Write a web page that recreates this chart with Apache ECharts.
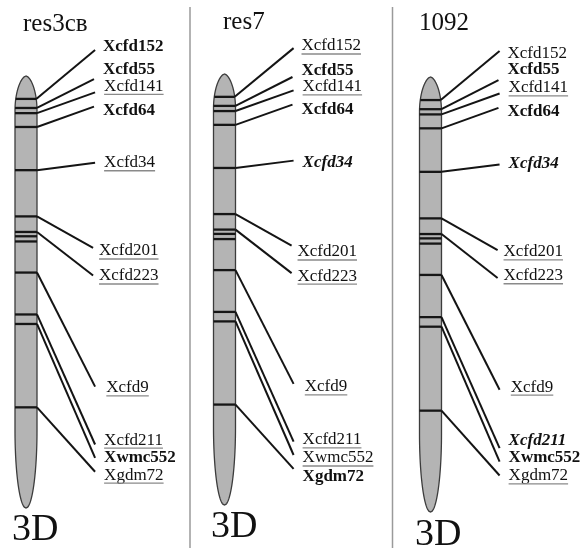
<!DOCTYPE html>
<html>
<head>
<meta charset="utf-8">
<script src="https://cdn.jsdelivr.net/npm/echarts@6/dist/echarts.min.js"></script>
<style>html,body{margin:0;padding:0;background:#fff;}#c{width:586px;height:548px;}</style>
</head>
<body>
<div id="c"></div>
<script>
// ---- data (map positions in % of chromosome length, top = 0) ----
const lineNames = ['res3cв', 'res7', '1092'];
const chromName = '3D';
const markers = ['Xcfd152','Xcfd55','Xcfd141','Xcfd64','Xcfd34','Xcfd201','Xcfd223','Xcfd9','Xcfd211','Xwmc552','Xgdm72'];
const markerPos = [5.3, 7.4, 8.6, 11.8, 21.8, 32.5, 36.1, 45.5, 55.2, 57.4, 76.7];
const extraBands = [37.1, 38.3];
const tipPos = [-6.0, 0.7, 3.8, 7.1, 20.1, 39.8, 46.2, 71.9, 85.3, 88.4, 91.6];
const tipX = [3.64, 3.59, 3.64, 3.59, 3.64, 3.55, 3.55, 3.64, 3.64, 3.64, 3.64];
const labelX = [4.0, 4.0, 4.05, 4.0, 4.05, 3.82, 3.82, 4.15, 4.05, 4.05, 4.05];
const labelPosRes3cb = [-6.9, -1.4, 2.4, 8.1, 20.1, 40.5, 46.3, 72.2, 84.3, 88.4, 92.4];
const labelPosRes7 = [-6.5, -0.9, 3.0, 8.3, 20.6, 41.3, 46.9, 72.6, 84.9, 89.1, 93.3];
const labelPos1092 = [-5.5, -1.6, 2.5, 8.0, 19.8, 40.2, 45.7, 71.3, 83.7, 87.6, 91.7];
const stylesRes3cb = ['b','b','u','b','u','u','u','u','u','b','u'];
const stylesRes7 = ['u','b','u','b','bi','u','u','u','u','u','b'];
const styles1092 = ['n','b','u','b','bi','u','u','u','bi','b','u'];

// ---- layout ----
const panels = [
  {left: 15, top: 76, bottom: 508, titleX: 23, titleY: 24, cdX: 12, cdY: 530, labels: labelPosRes3cb, styles: stylesRes3cb},
  {left: 213.5, top: 74, bottom: 505, titleX: 223, titleY: 22, cdX: 211, cdY: 527, labels: labelPosRes7, styles: stylesRes7},
  {left: 419.5, top: 77, bottom: 512, titleX: 419, titleY: 23, cdX: 415, cdY: 535, labels: labelPos1092, styles: styles1092}
];
const chromW = 22;
const FONT = '"Liberation Serif","Times New Roman",serif';
const FS = 17;
const measureCtx = document.createElement('canvas').getContext('2d');
function textWidth(t, f) { measureCtx.font = f; return measureCtx.measureText(t).width; }
function fontFor(s) {
  if (s === 'b') return 'bold ' + FS + 'px ' + FONT;
  if (s === 'bi') return 'italic bold ' + FS + 'px ' + FONT;
  return 'normal ' + FS + 'px ' + FONT;
}
// half width of chromosome (in x units, full width = 1) at map position u
const DOME = 8, TAIL0 = 82, TAIL = 18;
function halfW(u) {
  if (u < 0) return 0;
  if (u < DOME) { const t = 1 - u / DOME; return 0.5 * Math.pow(Math.sqrt(Math.max(0, 1 - t * t)), 1.2); }
  if (u > TAIL0) { const k = (u - TAIL0) / TAIL; return k >= 1 ? 0 : 0.5 * Math.sqrt(1 - k * k); }
  return 0.5;
}

const grids = [], xAxes = [], yAxes = [], series = [], graphics = [];
panels.forEach((p, i) => {
  grids.push({left: p.left, width: chromW, top: p.top, height: p.bottom - p.top});
  xAxes.push({type: 'value', gridIndex: i, min: 0, max: 1, show: false});
  yAxes.push({type: 'value', gridIndex: i, min: 0, max: 100, inverse: true, show: false});
  // chromosome body
  series.push({
    type: 'custom', xAxisIndex: i, yAxisIndex: i, clip: false, silent: true, z: 1,
    data: [[0, 100]],
    renderItem: (params, api) => {
      const pts = [];
      for (let u = 0; u <= 100; u += 0.2) pts.push(api.coord([0.5 - halfW(u), u]));
      for (let u = 100; u >= 0; u -= 0.2) pts.push(api.coord([0.5 + halfW(u), u]));
      return {type: 'polygon', shape: {points: pts}, style: {fill: '#b4b4b4', stroke: '#3c3c3c', lineWidth: 1.3}};
    }
  });
  // bands
  series.push({
    type: 'custom', xAxisIndex: i, yAxisIndex: i, clip: false, silent: true, z: 2,
    data: markerPos.concat(extraBands).map(v => [0.5, v]),
    renderItem: (params, api) => {
      const u = api.value(1), w = halfW(u);
      const a = api.coord([0.5 - w, u]), b = api.coord([0.5 + w, u]);
      return {type: 'line', shape: {x1: a[0], y1: a[1], x2: b[0], y2: b[1]}, style: {stroke: '#161616', lineWidth: 2.3}};
    }
  });
  // connectors
  series.push({
    type: 'custom', xAxisIndex: i, yAxisIndex: i, clip: false, silent: true, z: 3,
    data: markers.map((m, k) => [markerPos[k], tipX[k], tipPos[k]]),
    renderItem: (params, api) => {
      const u = api.value(0);
      const a = api.coord([0.5 + halfW(u), u]), b = api.coord([api.value(1), api.value(2)]);
      return {type: 'line', shape: {x1: a[0], y1: a[1], x2: b[0], y2: b[1]}, style: {stroke: '#141414', lineWidth: 2}};
    }
  });
  // labels
  series.push({
    type: 'custom', xAxisIndex: i, yAxisIndex: i, clip: false, silent: true, z: 4,
    data: markers.map((m, k) => [labelX[k], p.labels[k], k]),
    renderItem: (params, api) => {
      const k = api.value(2), s = p.styles[k], f = fontFor(s), name = markers[k];
      const c = api.coord([api.value(0), api.value(1)]);
      const children = [{
        type: 'text', x: c[0], y: c[1],
        style: {text: name, font: f, fill: '#111', textAlign: 'left', textVerticalAlign: 'middle', align: 'left', verticalAlign: 'middle'}
      }];
      if (s === 'u') {
        const w = textWidth(name, f);
        const uy = c[1] + FS * 0.34 + 2.2;
        children.push({type: 'line', shape: {x1: c[0], y1: uy, x2: c[0] + w, y2: uy}, style: {stroke: '#8a8a8a', lineWidth: 1.4}});
      }
      return {type: 'group', children};
    }
  });
  graphics.push({type: 'text', x: p.titleX, y: p.titleY,
    style: {text: lineNames[i], font: 'normal 25px ' + FONT, fill: '#111', textAlign: 'left', textVerticalAlign: 'middle', align: 'left', verticalAlign: 'middle'}});
  graphics.push({type: 'text', x: p.cdX, y: p.cdY,
    style: {text: chromName, font: 'normal 38px ' + FONT, fill: '#111', textAlign: 'left', textVerticalAlign: 'middle', align: 'left', verticalAlign: 'middle'}});
});
graphics.push({type: 'line', shape: {x1: 190, y1: 7, x2: 190, y2: 548}, style: {stroke: '#9a9a9a', lineWidth: 1.5}});
graphics.push({type: 'line', shape: {x1: 392.5, y1: 7, x2: 392.5, y2: 548}, style: {stroke: '#9a9a9a', lineWidth: 1.5}});

const chart = echarts.init(document.getElementById('c'), null, {renderer: 'canvas'});
chart.setOption({
  animation: false,
  backgroundColor: '#fff',
  grid: grids, xAxis: xAxes, yAxis: yAxes,
  series: series,
  graphic: graphics
});
</script>
</body>
</html>
